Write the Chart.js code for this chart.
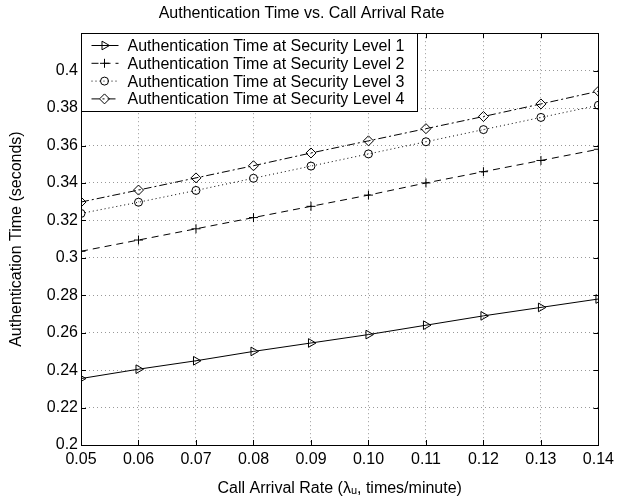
<!DOCTYPE html>
<html>
<head>
<meta charset="utf-8">
<script src="https://cdn.jsdelivr.net/npm/chart.js@4.4.0/dist/chart.umd.min.js"></script>
<style>
  body { margin: 0; background: #fff; }
</style>
</head>
<body>
<canvas id="authChart" width="619" height="501"></canvas>
<script>
const rates = [0.05, 0.06, 0.07, 0.08, 0.09, 0.10, 0.11, 0.12, 0.13, 0.14];
const level1 = [0.2355, 0.2405, 0.2450, 0.2500, 0.2545, 0.2590, 0.2640, 0.2690, 0.2735, 0.2780];
const level2 = [0.3035, 0.3095, 0.3155, 0.3215, 0.3275, 0.3335, 0.3400, 0.3460, 0.3520, 0.3580];
const level3 = [0.3237, 0.3297, 0.3360, 0.3425, 0.3490, 0.3555, 0.3620, 0.3685, 0.3750, 0.3815];
const level4 = [0.3298, 0.3362, 0.3427, 0.3492, 0.3560, 0.3625, 0.3690, 0.3755, 0.3822, 0.3890];
const seriesNames = [
  "Authentication Time at Security Level 1",
  "Authentication Time at Security Level 2",
  "Authentication Time at Security Level 3",
  "Authentication Time at Security Level 4"
];

const FONT = "'Liberation Sans', Arial, Helvetica, sans-serif";

function pts(vals) {
  return vals.map((v, i) => ({ x: rates[i], y: v }));
}

const styles = [
  { dash: [], pointStyle: "triangle", rotation: 90, radius: 5 },
  { dash: [7, 5], pointStyle: "cross", rotation: 0, radius: 4.5 },
  { dash: [1, 3], pointStyle: "circle", rotation: 0, radius: 4 },
  { dash: [8, 3, 2, 3], pointStyle: "rectRot", rotation: 0, radius: 5 }
];

const allSeries = [level1, level2, level3, level4];

const datasets = allSeries.map((vals, i) => ({
  label: seriesNames[i],
  data: pts(vals),
  borderColor: "#000",
  backgroundColor: "rgba(0,0,0,0)",
  borderWidth: 1,
  borderDash: styles[i].dash,
  pointStyle: styles[i].pointStyle,
  pointRotation: styles[i].rotation,
  pointRadius: styles[i].radius,
  pointBorderColor: "#000",
  pointBackgroundColor: "rgba(0,0,0,0)",
  pointBorderWidth: 1,
  fill: false,
  tension: 0
}));

// box around plot, inward ticks, and the matlab-style legend
const framePlugin = {
  id: "frame",
  afterDraw(chart) {
    const ctx = chart.ctx;
    const a = chart.chartArea;
    const xs = chart.scales.x, ys = chart.scales.y;
    ctx.save();
    ctx.strokeStyle = "#000";
    ctx.lineWidth = 1;
    ctx.setLineDash([]);
    ctx.strokeRect(Math.round(a.left) + 0.5, Math.round(a.top) + 0.5,
      Math.round(a.right - a.left), Math.round(a.bottom - a.top));

    ctx.beginPath();
    xs.ticks.forEach(t => {
      const px = Math.round(xs.getPixelForValue(t.value)) + 0.5;
      ctx.moveTo(px, a.bottom); ctx.lineTo(px, a.bottom - 5);
      ctx.moveTo(px, a.top); ctx.lineTo(px, a.top + 5);
    });
    ys.ticks.forEach(t => {
      const py = Math.round(ys.getPixelForValue(t.value)) + 0.5;
      ctx.moveTo(a.left, py); ctx.lineTo(a.left + 5, py);
      ctx.moveTo(a.right, py); ctx.lineTo(a.right - 5, py);
    });
    ctx.stroke();

    // legend
    const lx = Math.round(a.left) + 0.5, ly = Math.round(a.top) + 0.5;
    const lw = 336, lh = 78;
    ctx.fillStyle = "#fff";
    ctx.fillRect(lx, ly, lw, lh);
    ctx.strokeRect(lx, ly, lw, lh);
    ctx.font = "16px " + FONT;
    ctx.textBaseline = "middle";
    seriesNames.forEach((name, i) => {
      const y = ly + 12 + i * 17.8;
      ctx.save();
      ctx.setLineDash(styles[i].dash);
      ctx.beginPath();
      ctx.moveTo(lx + 10, y);
      ctx.lineTo(lx + 37, y);
      ctx.stroke();
      ctx.restore();
      ctx.fillStyle = "rgba(0,0,0,0)";
      Chart.helpers.drawPoint(ctx, {
        pointStyle: styles[i].pointStyle,
        rotation: styles[i].rotation,
        radius: styles[i].radius,
        borderWidth: 1
      }, lx + 23, y);
      ctx.fillStyle = "#000";
      ctx.fillText(name, lx + 46, y + 1);
    });
    ctx.restore();
  }
};

new Chart(document.getElementById("authChart").getContext("2d"), {
  type: "line",
  data: { datasets },
  options: {
    responsive: false,
    animation: false,
    layout: { padding: { left: 0, right: 16, top: 0, bottom: 0 } },
    plugins: {
      legend: { display: false },
      tooltip: { enabled: false },
      title: {
        display: true,
        text: "Authentication Time vs. Call Arrival Rate",
        color: "#000",
        font: { family: FONT, size: 16, weight: "normal" },
        padding: { top: 4, bottom: 10 }
      }
    },
    scales: {
      x: {
        type: "linear",
        min: 0.05,
        max: 0.14,
        ticks: {
          stepSize: 0.01,
          color: "#000",
          font: { family: FONT, size: 16 },
          padding: 5,
          callback: v => v.toFixed(2)
        },
        grid: { color: "#999", drawTicks: false, lineWidth: 1 },
        border: { display: false, dash: [1, 3] },
        title: {
          display: true,
          text: "Call Arrival Rate (λᵤ, times/minute)",
          color: "#000",
          font: { family: FONT, size: 16 },
          padding: { top: 4, bottom: 3 }
        },
        afterFit(scale) { scale.height = 56; }
      },
      y: {
        min: 0.2,
        max: 0.42,
        ticks: {
          stepSize: 0.02,
          color: "#000",
          font: { family: FONT, size: 16 },
          padding: 3,
          callback: v => (v > 0.41 ? "" : String(Number(v.toFixed(2))))
        },
        grid: { color: "#999", drawTicks: false, lineWidth: 1 },
        border: { display: false, dash: [1, 3] },
        title: {
          display: true,
          text: "Authentication Time (seconds)",
          color: "#000",
          font: { family: FONT, size: 16 },
          padding: { top: 7, bottom: 0 }
        },
        afterFit(scale) { scale.width = 81; }
      }
    }
  },
  plugins: [framePlugin]
});
</script>
</body>
</html>
